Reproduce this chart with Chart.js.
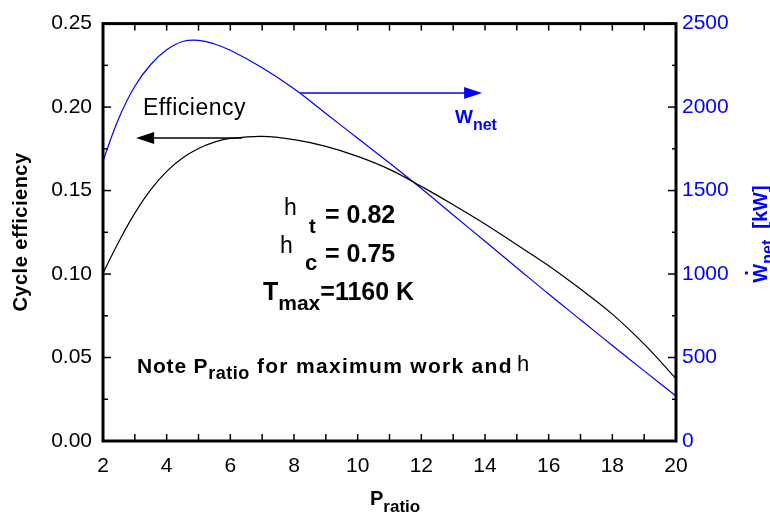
<!DOCTYPE html>
<html lang="en">
  <head>
    <meta charset="utf-8" />
    <style>
      * { margin: 0; padding: 0; }
      body { background: #fff; }
      .chartBox { width: 770px; height: 519px; }
    </style>
  </head>
  <body>
    <div class="chartBox">
      <canvas id="myChart"></canvas>
    </div>
    <script src="https://cdn.jsdelivr.net/npm/chart.js/dist/chart.umd.min.js"></script>
    <script>
      // data
      const pRatio = [2, 2.5, 3, 3.5, 4, 4.5, 5, 5.5, 6, 7, 8, 9, 10, 11, 12, 13, 14, 15, 16, 17, 18, 19, 20];
      const efficiency = [0.1005, 0.1195, 0.1365, 0.1505, 0.1615, 0.1695, 0.1752, 0.179, 0.1812, 0.1825, 0.1805, 0.1765,
        0.1705, 0.1627, 0.1525, 0.1415, 0.13, 0.1175, 0.105, 0.091, 0.076, 0.058, 0.0374];
      const wNet = [1678, 1935, 2125, 2255, 2343, 2393, 2400, 2378, 2340, 2236, 2110, 1962, 1813, 1665, 1512, 1354,
        1196, 1038, 880, 726, 572, 420, 269];
      const xTicks = [2, 4, 6, 8, 10, 12, 14, 16, 18, 20];
      const effTicks = [0, 0.05, 0.1, 0.15, 0.2, 0.25];
      const wTicks = [0, 500, 1000, 1500, 2000, 2500];

      const FONT = "'Liberation Sans', Arial, sans-serif";
      const BLUE = "#0000ff";

      // draw a run of text pieces (for subscripts)
      function runText(ctx, x, y, parts) {
        let cx = x;
        parts.forEach((p) => {
          ctx.font = p.font;
          ctx.fillStyle = p.color || "#000";
          ctx.letterSpacing = p.ls || "0px";
          ctx.fillText(p.t, cx, y + (p.dy || 0));
          cx += ctx.measureText(p.t).width;
        });
        ctx.letterSpacing = "0px";
        return cx - x;
      }
      function runWidth(ctx, parts) {
        let w = 0;
        parts.forEach((p) => {
          ctx.font = p.font;
          ctx.letterSpacing = p.ls || "0px";
          w += ctx.measureText(p.t).width;
        });
        ctx.letterSpacing = "0px";
        return w;
      }
      function arrow(ctx, x0, y0, x1, y1, color) {
        ctx.strokeStyle = color;
        ctx.fillStyle = color;
        ctx.lineWidth = 1.5;
        const dir = Math.sign(x1 - x0);
        ctx.beginPath();
        ctx.moveTo(x0, y0);
        ctx.lineTo(x1 - dir * 14, y1);
        ctx.stroke();
        ctx.beginPath();
        ctx.moveTo(x1, y1);
        ctx.lineTo(x1 - dir * 18, y1 - 6);
        ctx.lineTo(x1 - dir * 18, y1 + 6);
        ctx.closePath();
        ctx.fill();
      }

      const annot = {
        id: "annot",
        afterDatasetsDraw(chart) {
          const { ctx, chartArea: a, scales } = chart;
          const sx = scales.x, sy = scales.y, sw = scales.y2;
          ctx.save();
          ctx.textBaseline = "alphabetic";
          ctx.textAlign = "left";

          // inward ticks
          ctx.strokeStyle = "#000";
          ctx.lineWidth = 1.5;
          const seg = (x0, y0, x1, y1) => {
            ctx.beginPath(); ctx.moveTo(x0, y0); ctx.lineTo(x1, y1); ctx.stroke();
          };
          for (let v = 2; v <= 20; v++) {
            const p = sx.getPixelForValue(v);
            seg(p, a.bottom, p, a.bottom - 7);
            seg(p, a.top, p, a.top + 7);
          }
          for (let v = 0; v <= 0.2501; v += 0.025) {
            const p = sy.getPixelForValue(v);
            const major = Math.abs(v / 0.05 - Math.round(v / 0.05)) < 1e-6;
            seg(a.left, p, a.left + (major ? 8 : 5), p);
          }
          for (let v = 0; v <= 2500; v += 250) {
            const p = sw.getPixelForValue(v);
            seg(a.right, p, a.right - (v % 500 === 0 ? 8 : 4), p);
          }
          // frame
          ctx.lineWidth = 3;
          ctx.strokeRect(a.left, a.top, a.right - a.left, a.bottom - a.top);

          // arrows
          arrow(ctx, sx.getPixelForValue(6.37), sy.getPixelForValue(0.1815),
            sx.getPixelForValue(3.04), sy.getPixelForValue(0.1815), "#000");
          arrow(ctx, sx.getPixelForValue(8.19), sw.getPixelForValue(2085),
            sx.getPixelForValue(13.91), sw.getPixelForValue(2085), BLUE);

          // labels in the plot
          runText(ctx, 143, 115, [{ t: "Efficiency", font: "23px " + FONT, ls: "0.5px" }]);
          runText(ctx, 455, 123, [
            { t: "W", font: "bold 19px " + FONT, color: BLUE },
            { t: "net", font: "bold 16px " + FONT, color: BLUE, dy: 7 },
          ]);
          runText(ctx, 284, 215, [{ t: "h", font: "23px " + FONT }]);
          runText(ctx, 309, 233, [{ t: "t", font: "bold 20px " + FONT }]);
          runText(ctx, 325, 223, [{ t: "= 0.82", font: "bold 25px " + FONT }]);
          runText(ctx, 280, 253, [{ t: "h", font: "23px " + FONT }]);
          runText(ctx, 305, 270, [{ t: "c", font: "bold 22px " + FONT }]);
          runText(ctx, 325, 262, [{ t: "= 0.75", font: "bold 25px " + FONT }]);
          runText(ctx, 263, 300, [
            { t: "T", font: "bold 25px " + FONT },
            { t: "max", font: "bold 21px " + FONT, dy: 10 },
            { t: "=1160 K", font: "bold 25px " + FONT },
          ]);
          runText(ctx, 137, 373, [
            { t: "Note P", font: "bold 21px " + FONT, ls: "0.8px" },
            { t: "ratio", font: "bold 18px " + FONT, dy: 6, ls: "0.5px" },
            { t: " for maximum work and", font: "bold 21px " + FONT, ls: "1.3px" },
          ]);
          runText(ctx, 517, 371, [{ t: "h", font: "22px " + FONT }]);

          // axis titles
          runText(ctx, 370, 505, [
            { t: "P", font: "bold 20px " + FONT },
            { t: "ratio", font: "bold 17px " + FONT, dy: 7 },
          ]);

          ctx.save();
          ctx.translate(27, 232);
          ctx.rotate(-Math.PI / 2);
          const lt = [{ t: "Cycle efficiency", font: "bold 20px " + FONT, ls: "0.5px" }];
          runText(ctx, -runWidth(ctx, lt) / 2, 0, lt);
          ctx.restore();

          ctx.save();
          ctx.translate(767, 234);
          ctx.rotate(-Math.PI / 2);
          const rt = [
            { t: "W", font: "bold 20px " + FONT, color: BLUE },
            { t: "net", font: "bold 16px " + FONT, color: BLUE, dy: 6 },
            { t: "  [kW]", font: "bold 20px " + FONT, color: BLUE },
          ];
          const w0 = -runWidth(ctx, rt) / 2;
          runText(ctx, w0, 0, rt);
          ctx.font = "bold 20px " + FONT;
          ctx.fillStyle = BLUE;
          ctx.fillText(".", w0 + 7, -19);
          ctx.restore();

          ctx.restore();
        },
      };

      const data = {
        datasets: [
          {
            label: "Efficiency",
            data: pRatio.map((p, i) => ({ x: p, y: efficiency[i] })),
            borderColor: "#000",
            borderWidth: 1.2,
            pointRadius: 0,
            tension: 0.4,
            yAxisID: "y",
          },
          {
            label: "Wnet",
            data: pRatio.map((p, i) => ({ x: p, y: wNet[i] })),
            borderColor: BLUE,
            borderWidth: 1.2,
            pointRadius: 0,
            tension: 0.4,
            yAxisID: "y2",
          },
        ],
      };

      const config = {
        type: "line",
        data,
        options: {
          responsive: true,
          maintainAspectRatio: false,
          animation: false,
          layout: { padding: { top: 19, left: 0, right: 0, bottom: 0 } },
          plugins: { legend: { display: false }, tooltip: { enabled: false } },
          scales: {
            x: {
              type: "linear",
              min: 2,
              max: 20,
              afterBuildTicks: (s) => { s.ticks = xTicks.map((v) => ({ value: v })); },
              afterFit: (s) => { s.height = 78; },
              grid: { display: false, drawTicks: false },
              border: { display: false },
              ticks: { color: "#000", font: { family: FONT, size: 21 }, padding: 13, maxRotation: 0 },
            },
            y: {
              position: "left",
              min: 0,
              max: 0.25,
              afterBuildTicks: (s) => { s.ticks = effTicks.map((v) => ({ value: v })); },
              afterFit: (s) => { s.width = 103; },
              grid: { display: false, drawTicks: false },
              border: { display: false },
              ticks: { color: "#000", font: { family: FONT, size: 21 }, padding: 11, callback: (v) => v.toFixed(2) },
            },
            y2: {
              position: "right",
              min: 0,
              max: 2500,
              afterBuildTicks: (s) => { s.ticks = wTicks.map((v) => ({ value: v })); },
              afterFit: (s) => { s.width = 94; },
              grid: { display: false, drawTicks: false },
              border: { display: false },
              ticks: { color: BLUE, font: { family: FONT, size: 21 }, padding: 6, callback: (v) => String(v) },
            },
          },
        },
        plugins: [annot],
      };

      const myChart = new Chart(document.getElementById("myChart"), config);
    </script>
  </body>
</html>
